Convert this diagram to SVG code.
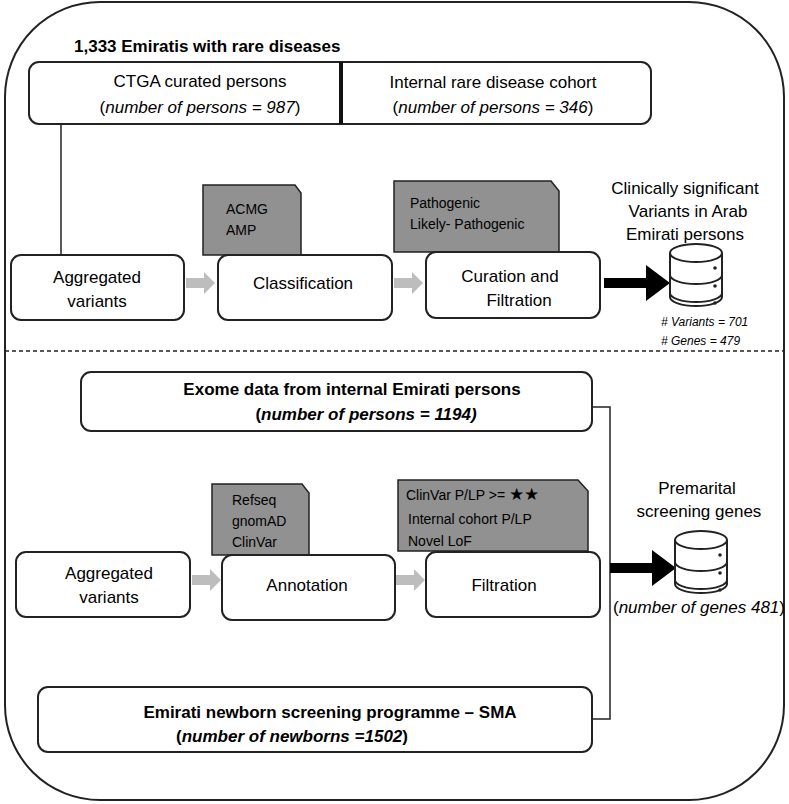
<svg xmlns="http://www.w3.org/2000/svg" width="789" height="804" viewBox="0 0 789 804">
<style>
text{font-family:"Liberation Sans",Arial,sans-serif;fill:#000}
.box{fill:#fff;stroke:#222;stroke-width:2}
.doc{fill:#919191;stroke:#222;stroke-width:1.5}
.t{font-size:17px;text-anchor:middle}
.s{font-size:14px}
.b{font-weight:bold}
.ga{fill:#bdbdbd}
.ln{fill:none;stroke:#222;stroke-width:1.5}
</style>
<defs>
<g id="db">
<path d="M0,10 v44 a26,9 0 0 0 52,0 v-44" fill="#fff" stroke="#222" stroke-width="2"/>
<ellipse cx="26" cy="10" rx="26" ry="9" fill="#fff" stroke="#222" stroke-width="2"/>
<path d="M0,32 a26,9 0 0 0 52,0 M0,50 a26,9 0 0 0 52,0" fill="none" stroke="#222" stroke-width="2"/>
<circle cx="45" cy="25" r="1.8" fill="#222"/><circle cx="45" cy="43" r="1.8" fill="#222"/><circle cx="45" cy="60" r="1.8" fill="#222"/>
</g>
</defs>
<rect x="5" y="2" width="779" height="798" rx="95" fill="#fff" stroke="#222" stroke-width="2"/>
<line x1="5" y1="351" x2="784" y2="351" stroke="#222" stroke-width="1.5" stroke-dasharray="4,3"/>
<text x="74" y="52" class="b" font-size="17">1,333 Emiratis with rare diseases</text>
<g id="connectors">
<line class="ln" x1="61" y1="124" x2="61" y2="255"/>
<path class="ga" d="M186,278 h18 v-6 l11,11 l-11,11 v-6 h-18z"/>
<path class="ga" d="M394,278 h18 v-6 l11,11 l-11,11 v-6 h-18z"/>
<path d="M604,278 h42 v-13 l24,18 l-24,18 v-13 h-42z" fill="#000"/>
<path class="ga" d="M192,575 h18 v-6 l11,11 l-11,11 v-6 h-18z"/>
<path class="ga" d="M396,575 h18 v-6 l11,11 l-11,11 v-6 h-18z"/>
<polyline class="ln" points="592,407 610,407 610,719 592,719"/>
<path d="M610,563 h42 v-13 l24,18 l-24,18 v-13 h-42z" fill="#000"/>
</g>
<g id="cohorts">
<rect class="box" x="29" y="62" width="622" height="62" rx="10"/>
<line x1="341" y1="62" x2="341" y2="124" stroke="#111" stroke-width="4"/>
<text class="t" x="200" y="87">CTGA curated persons</text>
<text class="t" x="200" y="113">(<tspan font-style="italic">number of persons = 987</tspan>)</text>
<text class="t" x="493" y="88">Internal rare disease cohort</text>
<text class="t" x="493" y="113">(<tspan font-style="italic">number of persons = 346</tspan>)</text>
</g>
<g id="acmg"><path class="doc" d="M203,185 h92 l6,8 v62 h-98z"/>
<text class="s" x="226" y="214">ACMG</text><text class="s" x="226" y="235">AMP</text></g>
<g id="patho"><path class="doc" d="M394,181 h157 l8,10 v61 h-165z"/>
<text class="s" x="410" y="208">Pathogenic</text><text class="s" x="410" y="229">Likely- Pathogenic</text></g>
<g id="agg1"><rect class="box" x="11" y="255" width="173" height="65" rx="10"/>
<text class="t" x="97" y="283">Aggregated</text><text class="t" x="97" y="307">variants</text></g>
<g id="classification"><rect class="box" x="218" y="255" width="174" height="65" rx="10"/>
<text class="t" x="303" y="289">Classification</text></g>
<g id="curation"><rect class="box" x="426" y="252" width="174" height="66" rx="10"/>
<text class="t" x="510" y="282">Curation and</text><text class="t" x="519" y="306">Filtration</text></g>
<g id="db1"><use href="#db" x="670" y="243"/>
<text class="t" x="685" y="194" font-size="15.5">Clinically significant</text>
<text class="t" x="688" y="217" font-size="15.5">Variants in Arab</text>
<text class="t" x="685" y="240" font-size="15.5">Emirati persons</text>
<text x="661" y="326" font-size="12" font-style="italic"># Variants = 701</text>
<text x="661" y="345" font-size="12" font-style="italic"># Genes = 479</text></g>
<g id="exome"><rect class="box" x="81" y="372" width="511" height="59" rx="10"/>
<text class="t b" x="352" y="395">Exome data from internal Emirati persons</text>
<text class="t b" x="366" y="420">(<tspan font-style="italic">number of persons = 1194)</tspan></text></g>
<g id="refseq"><path class="doc" d="M212,484 h90 l7,9 v62 h-97z"/>
<text class="s" x="232" y="505">Refseq</text><text class="s" x="232" y="526">gnomAD</text><text class="s" x="232" y="547">ClinVar</text></g>
<g id="filters"><path class="doc" d="M398,480 h180 l10,11 v60 h-190z"/>
<text class="s" x="406" y="500">ClinVar  P/LP &gt;= <tspan font-size="17">★★</tspan></text>
<text class="s" x="408" y="524">Internal cohort  P/LP</text>
<text class="s" x="408" y="546">Novel LoF</text></g>
<g id="agg2"><rect class="box" x="16" y="552" width="174" height="65" rx="10"/>
<text class="t" x="109" y="579">Aggregated</text><text class="t" x="109" y="603">variants</text></g>
<g id="annotation"><rect class="box" x="222" y="555" width="173" height="65" rx="10"/>
<text class="t" x="307" y="591">Annotation</text></g>
<g id="filtration"><rect class="box" x="426" y="552" width="174" height="65" rx="10"/>
<text class="t" x="504" y="591">Filtration</text></g>
<g id="db2"><use href="#db" x="675" y="530"/>
<text class="t" x="697" y="494" font-size="15.5">Premarital</text>
<text class="t" x="699" y="517" font-size="15.5">screening genes</text>
<text class="t" x="699" y="613" font-size="11.5">(<tspan font-style="italic">number of genes 481</tspan>)</text></g>
<g id="newborn"><rect class="box" x="38" y="687" width="554" height="65" rx="10"/>
<text class="t b" x="330" y="718">Emirati newborn screening programme – SMA</text>
<text class="t b" x="292" y="742">(<tspan font-style="italic">number of  newborns =1502</tspan>)</text></g>
</svg>
